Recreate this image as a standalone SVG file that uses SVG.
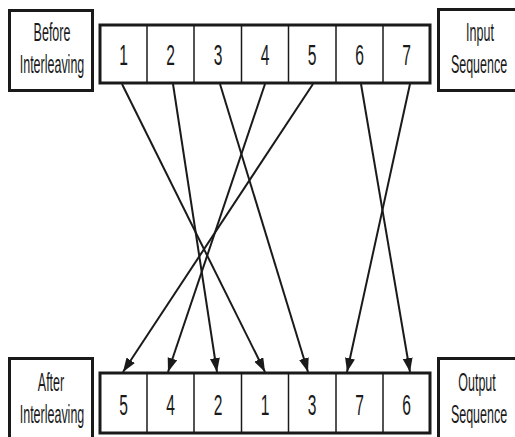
<svg xmlns="http://www.w3.org/2000/svg" width="515" height="437" viewBox="0 0 515 437">
<style>
.lbl{fill:none;stroke:#1a1a1a;stroke-width:3}
.row{fill:#fff;stroke:#1a1a1a;stroke-width:3}
.div{stroke:#1a1a1a;stroke-width:1.5}
.t{font-family:"Liberation Sans",Arial,sans-serif;font-size:25px;fill:#1a1a1a;text-anchor:middle}
.d{font-family:"Liberation Sans",Arial,sans-serif;font-size:30px;fill:#1a1a1a;text-anchor:middle}
.c{stroke:#1a1a1a;stroke-width:2;fill:none;marker-end:url(#ah)}
</style>
<defs>
<marker id="ah" markerUnits="userSpaceOnUse" markerWidth="16" markerHeight="12" refX="14" refY="5" orient="auto">
<path d="M0,0 L14,5 L0,10 Z" fill="#1a1a1a"/>
</marker>
</defs>
<rect width="515" height="437" fill="#fff"/>
<g id="before-label">
<rect class="lbl" x="9.5" y="10.5" width="83" height="80"/>
<text class="t" transform="translate(52,41) scale(0.5,1)">Before</text>
<text class="t" transform="translate(52,73) scale(0.5,1)">Interleaving</text>
</g>
<g id="input-label">
<rect class="lbl" x="438.5" y="9.5" width="85" height="81"/>
<text class="t" transform="translate(480,41) scale(0.5,1)">Input</text>
<text class="t" transform="translate(479,73) scale(0.5,1)">Sequence</text>
</g>
<g id="input-row">
<rect class="row" x="100" y="25" width="330" height="58"/>
<line class="div" x1="147" y1="25" x2="147" y2="83"/>
<line class="div" x1="194" y1="25" x2="194" y2="83"/>
<line class="div" x1="241.5" y1="25" x2="241.5" y2="83"/>
<line class="div" x1="288.5" y1="25" x2="288.5" y2="83"/>
<line class="div" x1="336" y1="25" x2="336" y2="83"/>
<line class="div" x1="383" y1="25" x2="383" y2="83"/>
<text class="d" transform="translate(123.5,65) scale(0.52,1)">1</text>
<text class="d" transform="translate(170.5,65) scale(0.52,1)">2</text>
<text class="d" transform="translate(218,65) scale(0.52,1)">3</text>
<text class="d" transform="translate(265,65) scale(0.52,1)">4</text>
<text class="d" transform="translate(312,65) scale(0.52,1)">5</text>
<text class="d" transform="translate(359.5,65) scale(0.52,1)">6</text>
<text class="d" transform="translate(406.5,65) scale(0.52,1)">7</text>
</g>
<g id="after-label">
<rect class="lbl" x="9.5" y="358.5" width="83" height="90"/>
<text class="t" transform="translate(51,391) scale(0.5,1)">After</text>
<text class="t" transform="translate(52,423) scale(0.5,1)">Interleaving</text>
</g>
<g id="output-label">
<rect class="lbl" x="438.5" y="358.5" width="85" height="90"/>
<text class="t" transform="translate(477,391) scale(0.5,1)">Output</text>
<text class="t" transform="translate(479,423) scale(0.5,1)">Sequence</text>
</g>
<g id="output-row">
<rect class="row" x="100" y="373" width="330" height="60"/>
<line class="div" x1="147" y1="373" x2="147" y2="433"/>
<line class="div" x1="194" y1="373" x2="194" y2="433"/>
<line class="div" x1="241.5" y1="373" x2="241.5" y2="433"/>
<line class="div" x1="288.5" y1="373" x2="288.5" y2="433"/>
<line class="div" x1="336" y1="373" x2="336" y2="433"/>
<line class="div" x1="383" y1="373" x2="383" y2="433"/>
<text class="d" transform="translate(123.5,415) scale(0.52,1)">5</text>
<text class="d" transform="translate(170.5,415) scale(0.52,1)">4</text>
<text class="d" transform="translate(218,415) scale(0.52,1)">2</text>
<text class="d" transform="translate(265,415) scale(0.52,1)">1</text>
<text class="d" transform="translate(312,415) scale(0.52,1)">3</text>
<text class="d" transform="translate(359.5,415) scale(0.52,1)">7</text>
<text class="d" transform="translate(406.5,415) scale(0.52,1)">6</text>
</g>
<g id="connectors">
<line class="c" x1="122" y1="84" x2="265" y2="372"/>
<line class="c" x1="173" y1="84" x2="217" y2="372"/>
<line class="c" x1="220" y1="84" x2="308" y2="372"/>
<line class="c" x1="265" y1="84" x2="168" y2="372"/>
<line class="c" x1="313" y1="84" x2="123" y2="372"/>
<line class="c" x1="361" y1="84" x2="410" y2="372"/>
<line class="c" x1="410" y1="84" x2="347" y2="372"/>
</g>
</svg>
